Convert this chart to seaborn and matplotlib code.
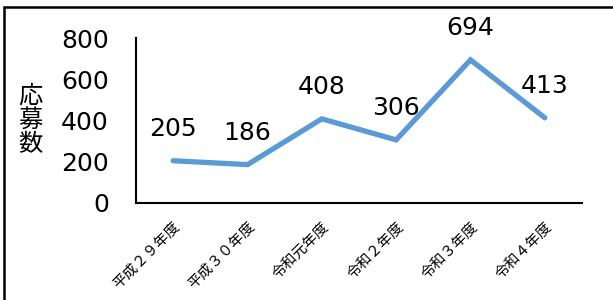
import numpy as np
import pandas as pd
import matplotlib
matplotlib.use("Agg")
import matplotlib.pyplot as plt
from matplotlib.patches import Rectangle
import seaborn as sns

# データ
years = ["平成２９年度", "平成３０年度", "令和元年度", "令和２年度", "令和３年度", "令和４年度"]
applicants = [205, 186, 408, 306, 694, 413]
y_ticks = [0, 200, 400, 600, 800]
y_label = "応募数"

sns.set_style("white")
plt.rcParams['font.family'] = ['Noto Sans CJK JP', 'DejaVu Sans']
plt.rcParams.update({'text.color': 'black', 'xtick.color': 'black', 'ytick.color': 'black',
                     'xtick.labelcolor': 'black', 'ytick.labelcolor': 'black'})
num_font = ['DejaVu Sans']

df = pd.DataFrame({"年度": years, "応募数": applicants})
df["pos"] = np.arange(len(df))

fig = plt.figure(figsize=(6.13, 3.0), dpi=100)
ax = fig.add_axes([136 / 613, 1 - 203 / 300, (582 - 136) / 613, (203 - 38) / 300])

sns.lineplot(data=df, x="pos", y="応募数", ax=ax, color="#5B9BD5",
             linewidth=3.8, sort=False, solid_capstyle="round", solid_joinstyle="miter")

# データラベル
for x, v in zip(df["pos"], df["応募数"]):
    ax.annotate(str(v), (x, v), xytext=(0, 23), textcoords="offset points",
                ha="center", va="center", fontsize=18, color="black", family=num_font)

ax.set_xlim(-0.5, len(years) - 0.5)
ax.set_ylim(0, 800)
ax.set_yticks(y_ticks)
ax.set_yticklabels([str(t) for t in y_ticks], fontsize=18, family=num_font)
ax.set_xticks(df["pos"])
ax.set_xticklabels(years, fontsize=10.5, rotation=45, ha="right", rotation_mode="anchor")
ax.tick_params(axis="y", direction="out", length=4.5, width=1.2, pad=15, color="black")
ax.tick_params(axis="x", direction="in", length=2.5, width=1.0, pad=12, color="black")
ax.set_xlabel("")
ax.set_ylabel("")
for s in ["top", "right"]:
    ax.spines[s].set_visible(False)
for s in ["left", "bottom"]:
    ax.spines[s].set_color("black")
    ax.spines[s].set_linewidth(1.5)
ax.grid(False)

# 縦書きの軸ラベル
for i, ch in enumerate(y_label):
    fig.text(30 / 613, 1 - (96 + 24 * i) / 300, ch, fontsize=17.5, ha="center", va="center",
             color="black")

# 外枠
fig.patches.append(Rectangle((4 / 613, -0.1), 1.0, 1 - 7 / 300 + 0.1, transform=fig.transFigure,
                             fill=False, edgecolor="black", linewidth=1.8, clip_on=False))

fig.savefig("out.png", dpi=100)
